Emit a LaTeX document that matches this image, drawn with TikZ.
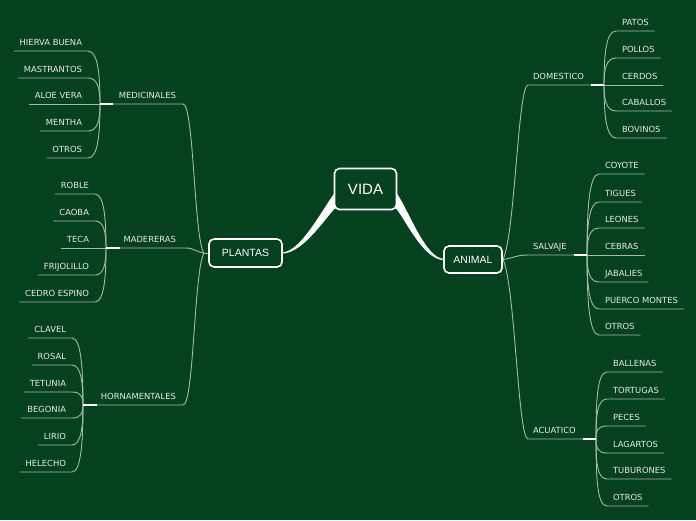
\documentclass[tikz,border=0pt]{standalone}
\usepackage{fontspec}
\setmainfont{DejaVu Sans}
\newfontfamily\headfont{Liberation Sans}
\usetikzlibrary{calc}
\definecolor{bgc}{HTML}{05401F}
\definecolor{lnc}{HTML}{A3BCA8}
\definecolor{txc}{HTML}{E6ECE6}
\pgfdeclarelayer{back}
\pgfsetlayers{back,main}
\begin{document}
\begin{tikzpicture}[x=1pt,y=-1pt,
 leaf/.style={text=txc,font=\fontsize{8.4}{10}\selectfont,inner xsep=6pt,inner ysep=0pt,text height=6.2pt,text depth=5.6pt,outer sep=0pt},
 conn/.style={draw=lnc,line width=0.9pt},
 wseg/.style={draw=white,line width=2pt},
 mainbox/.style={draw=white,fill=bgc,line width=1.6pt,rounded corners=5pt,text=white,inner sep=0pt,outer sep=0pt,font=\headfont\fontsize{10.5}{12}\selectfont},
 taper/.style={fill=white}]
\useasboundingbox (0,0) rectangle (696,520);

% central nodes
\node[mainbox,minimum width=62pt,minimum height=41pt,font=\headfont\fontsize{15}{16}\selectfont] (vida) at (365.5,189) {VIDA};
\node[mainbox,minimum width=73pt,minimum height=28pt] (plantas) at (245.5,253) {PLANTAS};
\node[mainbox,minimum width=58pt,minimum height=27pt] (animal) at (473,259.5) {ANIMAL};

% junction coordinates
\coordinate (jMed) at (100,104); \coordinate (wMed) at (113,104); \coordinate (cMed) at (183,104);
\coordinate (jMad) at (106,248); \coordinate (wMad) at (120,248); \coordinate (cMad) at (186,248);
\coordinate (jHor) at (83,405);  \coordinate (wHor) at (97,405);  \coordinate (cHor) at (183,405);
\coordinate (cDom) at (528,85);  \coordinate (wDom) at (591,85);  \coordinate (jDom) at (604,85);
\coordinate (cSal) at (528,255); \coordinate (wSal) at (574,255); \coordinate (jSal) at (587,255);
\coordinate (cAcu) at (528,439); \coordinate (wAcu) at (583,439); \coordinate (jAcu) at (596,439);
\coordinate (pl) at ($(plantas.west)+(-5,0)$);
\coordinate (an) at ($(animal.east)+(1,0)$);

% category labels
\node[leaf,anchor=south east] (med) at (182,104) {MEDICINALES};
\node[leaf,anchor=south east] (mad) at (182,248) {MADERERAS};
\node[leaf,anchor=south east] (hor) at (182,405) {HORNAMENTALES};
\node[leaf,anchor=south west] (dom) at (527,85) {DOMESTICO};
\node[leaf,anchor=south west] (sal) at (527,255) {SALVAJE};
\node[leaf,anchor=south west] (acu) at (527,439) {ACUATICO};

% leaves: medicinales
\node[leaf,anchor=south east] (hb) at (88,51) {HIERVA BUENA};
\node[leaf,anchor=south east] (ma) at (88,78) {MASTRANTOS};
\node[leaf,anchor=south east] (av) at (88,104) {ALOE VERA};
\node[leaf,anchor=south east] (me) at (88,131) {MENTHA};
\node[leaf,anchor=south east] (ota) at (88,158) {OTROS};
% madereras
\node[leaf,anchor=south east] (ro) at (95,194) {ROBLE};
\node[leaf,anchor=south east] (ca) at (95,221) {CAOBA};
\node[leaf,anchor=south east] (te) at (95,248) {TECA};
\node[leaf,anchor=south east] (fr) at (95,275) {FRIJOLILLO};
\node[leaf,anchor=south east] (cd) at (95,302) {CEDRO ESPINO};
% hornamentales
\node[leaf,anchor=south east] (cl) at (72,338) {CLAVEL};
\node[leaf,anchor=south east] (rs) at (72,365) {ROSAL};
\node[leaf,anchor=south east] (tt) at (72,392) {TETUNIA};
\node[leaf,anchor=south east] (bg) at (72,418) {BEGONIA};
\node[leaf,anchor=south east] (li) at (72,445) {LIRIO};
\node[leaf,anchor=south east] (he) at (72,472) {HELECHO};
% domestico
\node[leaf,anchor=south west] (pa) at (616,31) {PATOS};
\node[leaf,anchor=south west] (po) at (616,58) {POLLOS};
\node[leaf,anchor=south west] (cer) at (616,85) {CERDOS};
\node[leaf,anchor=south west] (cab) at (616,111) {CABALLOS};
\node[leaf,anchor=south west] (bov) at (616,138) {BOVINOS};
% salvaje
\node[leaf,anchor=south west] (coy) at (599,174) {COYOTE};
\node[leaf,anchor=south west] (tig) at (599,202) {TIGUES};
\node[leaf,anchor=south west] (leo) at (599,228) {LEONES};
\node[leaf,anchor=south west] (ceb) at (599,255) {CEBRAS};
\node[leaf,anchor=south west] (jab) at (599,282) {JABALIES};
\node[leaf,anchor=south west] (pm) at (599,309) {PUERCO MONTES};
\node[leaf,anchor=south west] (otb) at (599,335) {OTROS};
% acuatico
\node[leaf,anchor=south west] (bal) at (607,372) {BALLENAS};
\node[leaf,anchor=south west] (tor) at (607,399) {TORTUGAS};
\node[leaf,anchor=south west] (pec) at (607,426) {PECES};
\node[leaf,anchor=south west] (lag) at (607,453) {LAGARTOS};
\node[leaf,anchor=south west] (tub) at (607,479) {TUBURONES};
\node[leaf,anchor=south west] (otc) at (607,506) {OTROS};

\begin{pgfonlayer}{back}
\fill[bgc] (0,0) rectangle (696,520);
% tapered main connectors
\fill[taper] ($(plantas.east)+(0,-0.6)$) .. controls +(20,0) and +(-10,10) .. ($(vida.west)+(2,2)$)
  -- ($(vida.west)+(2,18)$) .. controls +(-8,6) and +(22,0) .. ($(plantas.east)+(0,0.6)$) -- cycle;
\fill[taper] ($(vida.east)+(-2,2)$) .. controls +(10,8) and +(-20,0) .. ($(animal.west)+(0,-0.6)$)
  -- ($(animal.west)+(0,0.6)$) .. controls +(-22,0) and +(8,6) .. ($(vida.east)+(-2,18)$) -- cycle;
% plantas branches
\draw[conn] (plantas.west) -- (pl);
\draw[conn] (pl) .. controls +(-10,-13) and +(11,0) .. (cMed) -- (wMed);
\draw[conn] (pl) .. controls +(-8,-1) and +(8,0) .. (cMad) -- (wMad);
\draw[conn] (pl) .. controls +(-10,17) and +(11,0) .. (cHor) -- (wHor);
% animal branches
\draw[conn] (animal.east) -- (an);
\draw[conn] (an) .. controls +(12,-25) and +(-10,0) .. (cDom) -- (wDom);
\draw[conn] (an) .. controls +(9,-1) and +(-12,0) .. (cSal) -- (wSal);
\draw[conn] (an) .. controls +(12,25) and +(-10,0) .. (cAcu) -- (wAcu);
% leaves medicinales
\draw[conn] (hb.south west) -- (hb.south east) .. controls +(10,0) and +(0,-29) .. (jMed);
\draw[conn] (ma.south west) -- (ma.south east) .. controls +(10,0) and +(0,-14) .. (jMed);
\draw[conn] (av.south west) -- (jMed);
\draw[conn] (me.south west) -- (me.south east) .. controls +(10,0) and +(0,15) .. (jMed);
\draw[conn] (ota.south west) -- (ota.south east) .. controls +(10,0) and +(0,30) .. (jMed);
% leaves madereras
\draw[conn] (ro.south west) -- (ro.south east) .. controls +(9,0) and +(0,-30) .. (jMad);
\draw[conn] (ca.south west) -- (ca.south east) .. controls +(9,0) and +(0,-15) .. (jMad);
\draw[conn] (te.south west) -- (jMad);
\draw[conn] (fr.south west) -- (fr.south east) .. controls +(9,0) and +(0,15) .. (jMad);
\draw[conn] (cd.south west) -- (cd.south east) .. controls +(9,0) and +(0,30) .. (jMad);
% leaves hornamentales
\draw[conn] (cl.south west) -- (cl.south east) .. controls +(9,0) and +(0,-37) .. (jHor);
\draw[conn] (rs.south west) -- (rs.south east) .. controls +(9,0) and +(0,-22) .. (jHor);
\draw[conn] (tt.south west) -- (tt.south east) .. controls +(9,0) and +(0,-8) .. (jHor);
\draw[conn] (bg.south west) -- (bg.south east) .. controls +(9,0) and +(0,8) .. (jHor);
\draw[conn] (li.south west) -- (li.south east) .. controls +(9,0) and +(0,22) .. (jHor);
\draw[conn] (he.south west) -- (he.south east) .. controls +(9,0) and +(0,37) .. (jHor);
% leaves domestico
\draw[conn] (pa.south east) -- (pa.south west) .. controls +(-10,0) and +(0,-30) .. (jDom);
\draw[conn] (po.south east) -- (po.south west) .. controls +(-10,0) and +(0,-15) .. (jDom);
\draw[conn] (cer.south east) -- (jDom);
\draw[conn] (cab.south east) -- (cab.south west) .. controls +(-10,0) and +(0,14) .. (jDom);
\draw[conn] (bov.south east) -- (bov.south west) .. controls +(-10,0) and +(0,29) .. (jDom);
% leaves salvaje
\draw[conn] (coy.south east) -- (coy.south west) .. controls +(-10,0) and +(0,-45) .. (jSal);
\draw[conn] (tig.south east) -- (tig.south west) .. controls +(-10,0) and +(0,-29) .. (jSal);
\draw[conn] (leo.south east) -- (leo.south west) .. controls +(-10,0) and +(0,-15) .. (jSal);
\draw[conn] (ceb.south east) -- (jSal);
\draw[conn] (jab.south east) -- (jab.south west) .. controls +(-10,0) and +(0,15) .. (jSal);
\draw[conn] (pm.south east) -- (pm.south west) .. controls +(-10,0) and +(0,30) .. (jSal);
\draw[conn] (otb.south east) -- (otb.south west) .. controls +(-10,0) and +(0,44) .. (jSal);
% leaves acuatico
\draw[conn] (bal.south east) -- (bal.south west) .. controls +(-10,0) and +(0,-37) .. (jAcu);
\draw[conn] (tor.south east) -- (tor.south west) .. controls +(-10,0) and +(0,-22) .. (jAcu);
\draw[conn] (pec.south east) -- (pec.south west) .. controls +(-10,0) and +(0,-8) .. (jAcu);
\draw[conn] (lag.south east) -- (lag.south west) .. controls +(-10,0) and +(0,8) .. (jAcu);
\draw[conn] (tub.south east) -- (tub.south west) .. controls +(-10,0) and +(0,22) .. (jAcu);
\draw[conn] (otc.south east) -- (otc.south west) .. controls +(-10,0) and +(0,37) .. (jAcu);
% white junction segments
\draw[wseg] (wMed) -- (jMed);
\draw[wseg] (wMad) -- (jMad);
\draw[wseg] (wHor) -- (jHor);
\draw[wseg] (wDom) -- (jDom);
\draw[wseg] (wSal) -- (jSal);
\draw[wseg] (wAcu) -- (jAcu);
\end{pgfonlayer}
\end{tikzpicture}
\end{document}
